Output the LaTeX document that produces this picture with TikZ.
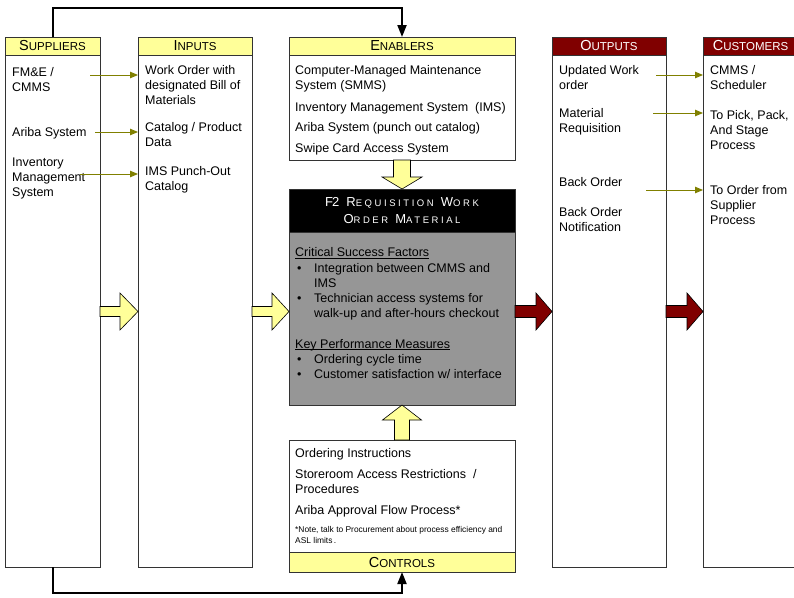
\documentclass[tikz,border=0pt]{standalone}
\usepackage{fontspec}
\setmainfont{Liberation Sans}
\newfontfamily\trackfont[LetterSpace=27]{Liberation Sans}
\usetikzlibrary{arrows.meta,calc}

\definecolor{hdryellow}{RGB}{255,255,153}
\definecolor{hdrred}{RGB}{128,0,0}
\definecolor{procgray}{RGB}{150,150,150}
\definecolor{linkolive}{RGB}{128,128,0}

% fake small caps: large initial, smaller rest
\newcommand\capsc[2]{{\fontsize{14.5}{17}\selectfont #1}{\fontsize{11.5}{14}\selectfont #2}}
\newcommand\capsctrack[2]{{\fontsize{13}{16.5}\selectfont #1}{\fontsize{9.5}{16.5}\selectfont #2}}
% underline a little below the baseline
\newcommand\ulinetxt[1]{\setbox0\hbox{#1}\rlap{\rule[-1.8pt]{\wd0}{0.7pt}}\box0}

% horizontal block arrow: style, from, to, shaft half height, head half height, head length
\newcommand\harrow[6]{\draw[#1] ($(#2)+(0,-#4)$) -- ($(#3)+(-#6,-#4)$) -- ($(#3)+(-#6,-#5)$) -- (#3)
  -- ($(#3)+(-#6,#5)$) -- ($(#3)+(-#6,#4)$) -- ($(#2)+(0,#4)$) -- cycle;}
% vertical block arrow: style, from, to, shaft half width, head half width, signed head offset
\newcommand\varrow[6]{\draw[#1] ($(#2)+(-#4,0)$) -- ($(#3)+(-#4,#6)$) -- ($(#3)+(-#5,#6)$) -- (#3)
  -- ($(#3)+(#5,#6)$) -- ($(#3)+(#4,#6)$) -- ($(#2)+(#4,0)$) -- cycle;}

\begin{document}
\begin{tikzpicture}[x=1pt,y=-1pt,
  box/.style={draw=black!80,line width=0.8pt,inner sep=0pt,outer sep=0pt,anchor=north west},
  yhdr/.style={box,fill=hdryellow},
  rhdr/.style={box,fill=hdrred,text=white},
  % text blocks are placed by the baseline of their last line
  txt/.style={anchor=base west,inner sep=0pt,align=left,font=\fontsize{12.5}{15}\selectfont},
  notetxt/.style={txt,font=\fontsize{8.4}{11}\selectfont},
  feed/.style={draw=linkolive,line width=0.9pt,-{Triangle[length=8pt,width=6.5pt]}},
  loopline/.style={draw=black,line width=2pt,-{Triangle[length=12pt,width=9pt]}},
  yblock/.style={fill=hdryellow,draw=black,line width=0.6pt,line join=miter},
  rblock/.style={fill=hdrred,draw=black,line width=0.6pt,line join=miter}]

\useasboundingbox (0,0) rectangle (794,597);
\clip (0,0) rectangle (794,597);

% ---- SIPOC columns ----
\node[yhdr,minimum width=95pt,minimum height=18pt] (suph) at (5,37) {\capsc{S}{UPPLIERS}};
\node[box,minimum width=95pt,minimum height=512pt] (sup) at (5,55) {};

\node[yhdr,minimum width=114pt,minimum height=18pt] (inph) at (138,37) {\capsc{I}{NPUTS}};
\node[box,minimum width=114pt,minimum height=512pt] (inp) at (138,55) {};

\node[yhdr,minimum width=226pt,minimum height=18pt] (enah) at (289,37) {\capsc{E}{NABLERS}};
\node[box,minimum width=226pt,minimum height=105pt] (ena) at (289,55) {};

\node[box,fill=black,text=white,minimum width=226pt,minimum height=43pt,align=center,
      font=\trackfont\fontsize{13}{16.5}\selectfont] (f2h) at (289,189)
  {F\kern-1pt{}2 \capsctrack{R}{EQUISITION} \capsctrack{W}{ORK}\\\capsctrack{O}{RDER} \capsctrack{M}{ATERIAL}};
\node[box,fill=procgray,minimum width=226pt,minimum height=173pt] (f2) at (289,232) {};

\node[box,minimum width=226pt,minimum height=112pt] (ctl) at (289,440) {};
\node[yhdr,minimum width=226pt,minimum height=20pt] (ctlf) at (289,552) {\capsc{C}{ONTROLS}};

\node[rhdr,minimum width=114pt,minimum height=18pt] (outh) at (552,37) {\capsc{O}{UTPUTS}};
\node[box,minimum width=114pt,minimum height=512pt] (out) at (552,55) {};

\node[rhdr,minimum width=95pt,minimum height=18pt] (cush) at (703,37) {\capsc{C}{USTOMERS}};
\node[box,minimum width=95pt,minimum height=512pt] (cus) at (703,55) {};

% ---- column contents ----
\node[txt] (s1t) at (12,91) {FM\&E /\\CMMS};
\node[txt] (s2t) at (12,136.5) {Ariba System};
\node[txt] (s3t) at (12,196.5) {Inventory\\Management\\System};

\node[txt] (i1t) at (145,104) {Work Order with\\designated Bill of\\Materials};
\node[txt] (i2t) at (145,146.5) {Catalog / Product\\Data};
\node[txt] (i3t) at (145,190) {IMS Punch-Out\\Catalog};

\node[txt] (e1t) at (295,89) {Computer-Managed Maintenance\\System (SMMS)};
\node[txt] (e2t) at (295,111) {Inventory Management System~ (IMS)};
\node[txt] (e3t) at (295,131.7) {Ariba System (punch out catalog)};
\node[txt] (e4t) at (295,152.7) {Swipe Card Access System};

\node[txt] (csf) at (295,256.5) {\ulinetxt{Critical Success Factors}};
\node[txt] (b1) at (297,272) {\textbullet};
\node[txt] (c1t) at (314,287) {Integration between CMMS and\\IMS};
\node[txt] (b2) at (297,302) {\textbullet};
\node[txt] (c2t) at (314,317) {Technician access systems for\\walk-up and after-hours checkout};
\node[txt] (kpm) at (295,348) {\ulinetxt{Key Performance Measures}};
\node[txt] (b3) at (297,363) {\textbullet};
\node[txt] (k1t) at (314,363) {Ordering cycle time};
\node[txt] (b4) at (297,378) {\textbullet};
\node[txt] (k2t) at (314,378) {Customer satisfaction w/ interface};

\node[txt] (t1t) at (295,457) {Ordering Instructions};
\node[txt] (t2t) at (295,493) {Storeroom Access Restrictions~ /\\Procedures};
\node[txt] (t3t) at (295,514.5) {Ariba Approval Flow Process*};
\node[notetxt] (t4t) at (295,543) {*Note, talk to Procurement about process efficiency and\\ASL limits\,.};

\node[txt] (o1t) at (559,89.5) {Updated Work\\order};
\node[txt] (o2t) at (559,132) {Material\\Requisition};
\node[txt] (o3t) at (559,186.5) {Back Order};
\node[txt] (o4t) at (559,231) {Back Order\\Notification};

\node[txt] (u1t) at (710,89) {CMMS /\\Scheduler};
\node[txt] (u2t) at (710,149.5) {To Pick, Pack,\\And Stage\\Process};
\node[txt] (u3t) at (710,224.5) {To Order from\\Supplier\\Process};

% ---- thin feed arrows ----
\coordinate (fs1) at (90,75);
\coordinate (fs2) at (95,132);
\coordinate (fs3) at (80,174);
\draw[feed] (fs1) -- (inp.west |- fs1);
\draw[feed] (fs2) -- (inp.west |- fs2);
\draw[feed] (fs3) -- (inp.west |- fs3);
\coordinate (fo1) at (656,75);
\coordinate (fo2) at (653,113);
\coordinate (fo3) at (646,190);
\draw[feed] (fo1) -- (cus.west |- fo1);
\draw[feed] (fo2) -- (cus.west |- fo2);
\draw[feed] (fo3) -- (cus.west |- fo3);

% ---- block arrows ----
\coordinate (ya1s) at (sup.east |- 0,311.5);
\coordinate (ya1e) at (inp.west |- 0,311.5);
\coordinate (ya2s) at (inp.east |- 0,311.5);
\coordinate (ya2e) at (f2.west |- 0,311.5);
\coordinate (ra1s) at (f2.east |- 0,311.5);
\coordinate (ra1e) at (out.west |- 0,311.5);
\coordinate (ra2s) at (out.east |- 0,311.5);
\coordinate (ra2e) at (cus.west |- 0,311.5);
\harrow{yblock}{ya1s}{ya1e}{5}{18.5}{18}
\harrow{yblock}{ya2s}{ya2e}{5}{18.5}{17}
\harrow{rblock}{ra1s}{ra1e}{6}{18.5}{16}
\harrow{rblock}{ra2s}{ra2e}{6}{18.5}{16}
\varrow{yblock}{ena.south}{f2h.north}{8.5}{20}{-12}
\varrow{yblock}{ctl.north}{f2.south}{7.5}{19.5}{15}

% ---- feedback loop lines ----
\draw[loopline] (suph.north) -- ++(0,-29) -| (enah.north);
\draw[loopline] (sup.south) -- ++(0,26) -| (ctlf.south);
\end{tikzpicture}
\end{document}
